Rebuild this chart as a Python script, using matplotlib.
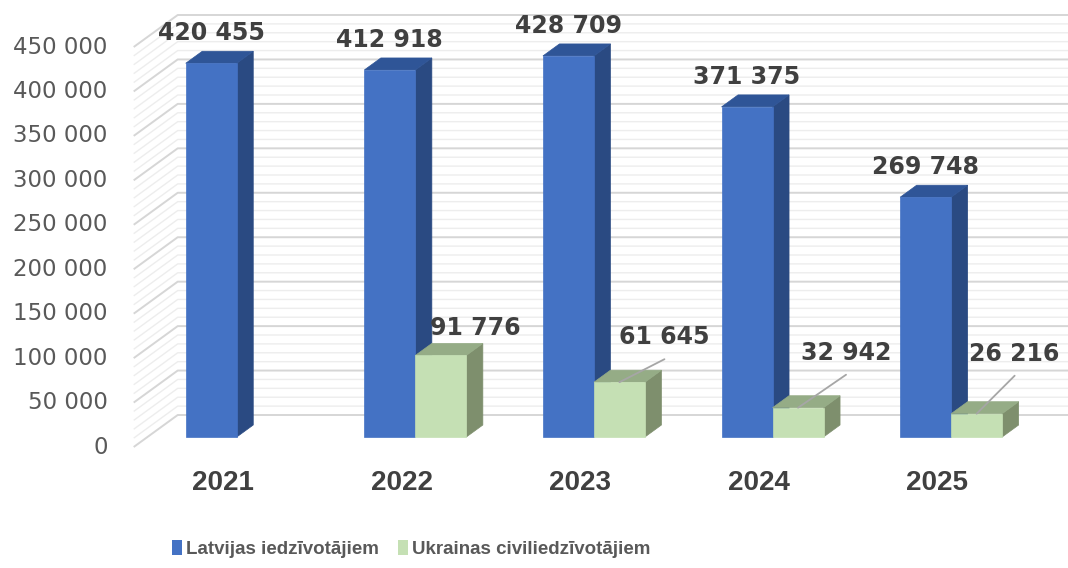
import matplotlib
matplotlib.use("Agg")
import matplotlib.pyplot as plt
from matplotlib.patches import Polygon, Patch
from matplotlib import font_manager
import numpy as np

# ---------------- data ----------------
years = ["2021", "2022", "2023", "2024", "2025"]
latvia = [420455, 412918, 428709, 371375, 269748]
ukraine = [None, 91776, 61645, 32942, 26216]
series_names = ["Latvijas iedzīvotājiem", "Ukrainas civiliedzīvotājiem"]
label_texts_lv = ["420 455", "412 918", "428 709", "371 375", "269 748"]
label_texts_ua = [None, "91 776", "61 645", "32 942", "26 216"]
ytick_values = list(range(0, 450001, 50000))
ytick_texts = ["0", "50 000", "100 000", "150 000", "200 000", "250 000",
               "300 000", "350 000", "400 000", "450 000"]

# ---------------- style / layout ----------------
W, H = 1068, 568
PX_PER_CAT = 178.6
VAL_PER_PX = 1125.0
X0_PX = 223.0           # category 0 at front floor edge (px from left)
Y0_PX = 568 - 447.0     # value 0 at front floor edge (px from bottom)

DX = 44.0 / PX_PER_CAT  # full depth shift (category units)
DY = 32.0 * VAL_PER_PX  # full depth shift (value units)
F_FRONT = 10.0 / 32.0   # bar front depth fraction
F_BACK = 22.0 / 32.0    # bar back depth fraction
BW = 51.0 / PX_PER_CAT  # single bar width

blue = dict(front="#4472C4", side="#2A4A82", top="#2F5597")
green = dict(front="#C5E0B4", side="#7E8F6D", top="#95AC86")

ua_label_offsets = [None, (34, 27), (45, 45), (48, 55), (38, 60)]  # px (right, up)
ua_leader = [False, False, True, True, True]

fig = plt.figure(figsize=(W / 100, H / 100), dpi=100)
ax = fig.add_axes([0, 0, 1, 1])
ax.set_xlim(-X0_PX / PX_PER_CAT, (W - X0_PX) / PX_PER_CAT)
ax.set_ylim(-Y0_PX * VAL_PER_PX, (H - Y0_PX) * VAL_PER_PX)
ax.set_axis_off()


def sh(x, y, d):
    return (x + d * DX, y + d * DY)


# ---------------- walls & gridlines ----------------
xl, xr = -0.5, len(years) - 0.5 + 0.05
for v in range(0, 450001, 10000):
    major = (v % 50000 == 0)
    col = "#D6D6D6" if major else "#EDEDED"
    lw = 1.4 if major else 1.0
    p0 = sh(xl, v, 0)
    p1 = sh(xl, v, 1)
    p2 = sh(xr, v, 1)
    ax.plot([p0[0], p1[0], p2[0]], [p0[1], p1[1], p2[1]], color=col, lw=lw,
            solid_capstyle="butt", zorder=1 if not major else 2)


# ---------------- bars ----------------
def draw_bar(x0, x1, v, c, z):
    front = [sh(x0, 0, F_FRONT), sh(x1, 0, F_FRONT), sh(x1, v, F_FRONT), sh(x0, v, F_FRONT)]
    side = [sh(x1, 0, F_FRONT), sh(x1, 0, F_BACK), sh(x1, v, F_BACK), sh(x1, v, F_FRONT)]
    top = [sh(x0, v, F_FRONT), sh(x1, v, F_FRONT), sh(x1, v, F_BACK), sh(x0, v, F_BACK)]
    ax.add_patch(Polygon(side, closed=True, facecolor=c["side"], edgecolor=c["side"], lw=0.5, zorder=z))
    ax.add_patch(Polygon(top, closed=True, facecolor=c["top"], edgecolor=c["top"], lw=0.5, zorder=z))
    ax.add_patch(Polygon(front, closed=True, facecolor=c["front"], edgecolor=c["front"], lw=0.5, zorder=z + 0.1))


text_dark = "#404040"
for i in range(len(years)):
    draw_bar(i - BW, i, latvia[i], blue, 5 + i)
    if ukraine[i] is not None:
        draw_bar(i, i + BW, ukraine[i], green, 5.5 + i)

# ---------------- data labels ----------------
lbl_font = dict(family="DejaVu Sans", weight="bold", size=17, color=text_dark)
for i in range(len(years)):
    ax.annotate(label_texts_lv[i], xy=sh(i - BW / 2, latvia[i], F_FRONT),
                xytext=(0, 30), textcoords="offset pixels",
                ha="center", va="center", zorder=20, **lbl_font)
    if ukraine[i] is not None:
        anchor = sh(i + BW / 2, ukraine[i], F_FRONT)
        dx, dy = ua_label_offsets[i]
        ax.annotate(label_texts_ua[i], xy=anchor, xytext=(dx, dy),
                    textcoords="offset pixels", ha="center", va="center",
                    zorder=20, **lbl_font)
        if ua_leader[i]:
            ax.annotate("", xy=anchor, xytext=(dx, dy - 22), textcoords="offset pixels",
                        arrowprops=dict(arrowstyle="-", color="#A6A6A6", lw=1.3,
                                        shrinkA=0, shrinkB=0), zorder=19)

# ---------------- axis labels ----------------
for v, t in zip(ytick_values, ytick_texts):
    ax.annotate(t, xy=sh(-0.5, v, 0), xytext=(-26, 0), textcoords="offset pixels",
                ha="right", va="center", family="DejaVu Sans", size=16.5, color="#595959")

for i, y in enumerate(years):
    ax.annotate(y, xy=(i, 0), xytext=(0, -36), textcoords="offset pixels",
                ha="center", va="center", family="Liberation Sans", weight="bold",
                size=20, color=text_dark)

# ---------------- legend ----------------
names = {f.name for f in font_manager.fontManager.ttflist}
if "Liberation Sans Narrow" in names:
    leg_prop = dict(family="Liberation Sans Narrow", weight="bold", size=16)
else:
    leg_prop = dict(family="Liberation Sans", weight="bold", size=13.5)
handles = [Patch(facecolor=blue["front"], edgecolor="none"),
           Patch(facecolor=green["front"], edgecolor="none")]
leg = fig.legend(handles, series_names, loc="center", ncol=2, frameon=False,
                 bbox_to_anchor=(411 / W, 1 - 549 / H), prop=leg_prop,
                 handlelength=0.55, handleheight=0.8, handletextpad=0.2,
                 columnspacing=1.0)
for t in leg.get_texts():
    t.set_color("#595959")

fig.savefig("out.png", dpi=100, facecolor="white")
